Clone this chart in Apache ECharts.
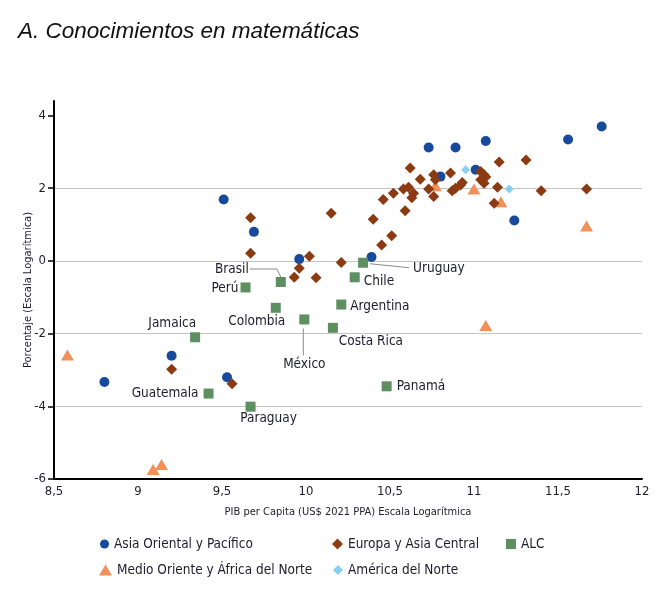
<!DOCTYPE html>
<html>
<head>
<meta charset="utf-8">
<script src="https://cdn.jsdelivr.net/npm/echarts@6/dist/echarts.min.js"></script>
<style>
  html, body { margin: 0; background: #fff; }
  #chart { width: 666px; height: 592px; }
</style>
</head>
<body>
<div id="chart"></div>
<script>
// datos: [PIB per capita (log), porcentaje]
const asiaPts = [[8.80, -3.33], [9.20, -2.61], [9.51, 1.69], [9.69, 0.80], [9.96, 0.05], [10.39, 0.11],
  [9.53, -3.20], [10.73, 3.12], [10.89, 3.12], [11.07, 3.30], [11.56, 3.34], [11.76, 3.70],
  [10.80, 2.32], [11.01, 2.51], [11.24, 1.11]];

const europaPts = [[9.20, -2.98], [9.56, -3.38], [9.67, 1.19], [9.67, 0.21], [9.93, -0.45], [9.96, -0.20],
  [10.02, 0.13], [10.06, -0.46], [10.15, 1.31], [10.21, -0.04], [10.40, 1.15], [10.45, 0.44],
  [10.51, 0.69], [10.46, 1.69], [10.52, 1.86], [10.59, 1.38], [10.62, 2.56], [10.68, 2.25],
  [10.58, 1.98], [10.61, 2.03], [10.64, 1.86], [10.63, 1.74], [10.73, 1.98], [10.76, 2.37],
  [10.77, 2.23], [10.76, 1.77], [10.86, 2.42], [10.87, 1.93], [10.89, 2.00], [10.92, 2.09],
  [10.93, 2.16], [11.04, 2.46], [11.06, 2.37], [11.04, 2.23], [11.06, 2.14], [11.07, 2.31],
  [11.15, 2.72], [11.14, 2.03], [11.12, 1.59], [11.31, 2.78], [11.40, 1.93], [11.67, 1.98]];

const alcNames = ['Jamaica', 'Guatemala', 'Perú', 'Brasil', 'Chile', 'Uruguay', 'Colombia',
  'México', 'Argentina', 'Costa Rica', 'Panamá', 'Paraguay'];
const alcPts = [[9.34, -2.10], [9.42, -3.65], [9.64, -0.73], [9.85, -0.58], [10.29, -0.45], [10.34, -0.05],
  [9.82, -1.29], [9.99, -1.61], [10.21, -1.20], [10.16, -1.84], [10.48, -3.45], [9.67, -4.01]];

const menaPts = [[8.58, -2.59], [9.09, -5.74], [9.14, -5.60], [11.07, -1.78], [11.67, 0.96],
  [11.00, 1.98], [11.16, 1.63], [10.77, 2.07]];

const norteAmPts = [[10.95, 2.51], [11.21, 1.98]];

const yTicks = [-6, -4, -2, 0, 2, 4];

// colocacion de las etiquetas de ALC (px)
const labelPos = {
  'Jamaica': ['left', [11, -14]],
  'Guatemala': ['left', [0, 0]],
  'Perú': ['left', [3, 1]],
  'Brasil': ['left', [-22, -13]],
  'Chile': ['right', [-1, 4]],
  'Uruguay': ['right', [40, 6]],
  'Colombia': ['bottom', [-19, -3]],
  'México': ['bottom', [0, 28]],
  'Argentina': ['right', [-1, 2]],
  'Costa Rica': ['bottom', [38, -3]],
  'Panamá': ['right', [0, 0]],
  'Paraguay': ['bottom', [18, -5]]
};
// lineas guia (px relativos al punto)
const leaders = [
  { name: 'Brasil', path: [[0, -5], [-4, -13], [-31, -13]] },
  { name: 'Uruguay', path: [[7, 1], [46, 5]] },
  { name: 'México', path: [[-1, 9], [-1, 36]] }
];

const FONT = '"Liberation Sans Narrow", "DejaVu Sans Condensed", "Roboto", sans-serif';
const TXT = '#1d1d2b';

const chart = echarts.init(document.getElementById('chart'));

const legendItem = (name, icon, left, top, w, h) => ({
  data: [name], left: left, top: top, icon: icon,
  itemWidth: w, itemHeight: h, itemGap: 0, padding: 0,
  selectedMode: false,
  textStyle: { fontFamily: FONT, fontSize: 13.5, color: TXT }
});

chart.setOption({
  animation: false,
  title: {
    text: 'A. Conocimientos en matemáticas',
    left: 18, top: 20, padding: 0,
    textStyle: {
      fontFamily: '"Liberation Sans", Arial, sans-serif',
      fontStyle: 'italic', fontWeight: 'normal', fontSize: 22.5, color: '#111'
    }
  },
  legend: [
    legendItem('Asia Oriental y Pacífico', 'circle', 100, 537, 9, 9),
    legendItem('Europa y Asia Central', 'diamond', 332, 537, 11, 11),
    legendItem('ALC', 'rect', 506, 537, 10, 10),
    legendItem('Medio Oriente y África del Norte', 'triangle', 99, 563, 13, 11),
    legendItem('América del Norte', 'diamond', 333, 563, 10, 10)
  ],
  grid: { left: 54, right: 24, top: 101, bottom: 113 },
  xAxis: {
    type: 'value', min: 8.5, max: 12, interval: 0.5,
    name: 'PIB per Capita (US$ 2021 PPA) Escala Logarítmica',
    nameLocation: 'middle', nameGap: 28,
    nameTextStyle: { fontFamily: FONT, fontSize: 11, color: TXT },
    axisLine: { onZero: false, lineStyle: { color: '#000', width: 2 } },
    axisTick: { show: false },
    splitLine: { show: false },
    axisLabel: {
      margin: 6, fontFamily: FONT, fontSize: 13, color: TXT,
      formatter: v => String(v).replace('.', ',')
    }
  },
  yAxis: {
    type: 'value', min: -6, max: 4.4, interval: 2,
    name: 'Porcentaje (Escala Logarítmica)',
    nameLocation: 'middle', nameGap: 20, nameMoveOverlap: false,
    nameTextStyle: { fontFamily: FONT, fontSize: 11, color: TXT },
    axisLine: { show: true, onZero: false, lineStyle: { color: '#000', width: 2 } },
    axisTick: { show: true, length: 6, customValues: yTicks, lineStyle: { color: '#000', width: 1.5 } },
    splitLine: { show: true, showMaxLine: false, lineStyle: { color: '#c4c4c4', width: 1.2 } },
    axisLabel: {
      margin: 8, fontFamily: FONT, fontSize: 13, color: TXT,
      customValues: yTicks
    }
  },
  series: [
    {
      name: 'Medio Oriente y África del Norte', type: 'scatter', symbol: 'triangle',
      symbolSize: [13, 11], itemStyle: { color: '#f0915a', opacity: 1 }, data: menaPts
    },
    {
      name: 'Asia Oriental y Pacífico', type: 'scatter', symbol: 'circle',
      symbolSize: 10, itemStyle: { color: '#174a9c', opacity: 1 }, data: asiaPts
    },
    {
      name: 'Europa y Asia Central', type: 'scatter', symbol: 'diamond',
      symbolSize: 11, itemStyle: { color: '#8b3a12', opacity: 1 }, data: europaPts
    },
    {
      name: 'ALC', type: 'scatter', symbol: 'rect',
      symbolSize: 10, itemStyle: { color: '#5e8f60', opacity: 1 },
      data: alcPts.map((p, i) => ({
        name: alcNames[i], value: p,
        label: { position: labelPos[alcNames[i]][0], offset: labelPos[alcNames[i]][1] }
      })),
      label: {
        show: true, formatter: '{b}', distance: 5,
        fontFamily: FONT, fontSize: 13.5, color: TXT
      }
    },
    {
      name: 'América del Norte', type: 'scatter', symbol: 'diamond',
      symbolSize: 9, itemStyle: { color: '#86d0f0', opacity: 1 }, data: norteAmPts
    }
  ]
});

// lineas guia de Brasil, Uruguay y México
chart.setOption({
  graphic: leaders.map(l => {
    const p = chart.convertToPixel({ gridIndex: 0 }, alcPts[alcNames.indexOf(l.name)]);
    return {
      type: 'polyline', silent: true, z: 10,
      shape: { points: l.path.map(d => [p[0] + d[0], p[1] + d[1]]) },
      style: { stroke: '#8a8a8a', lineWidth: 1, fill: null }
    };
  })
});

window.addEventListener('resize', () => chart.resize());
</script>
</body>
</html>
